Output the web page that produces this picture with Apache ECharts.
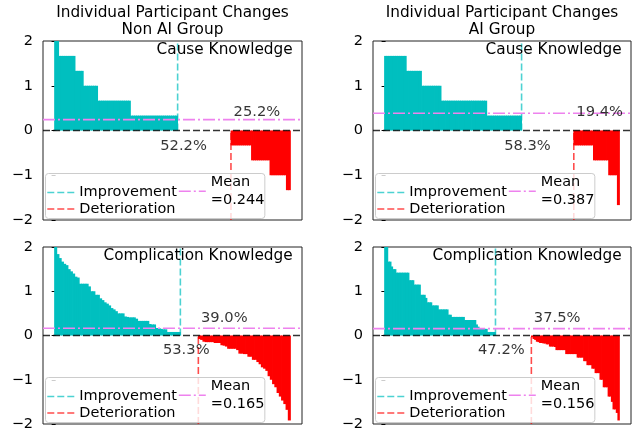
<!DOCTYPE html>
<html>
<head>
<meta charset="utf-8">
<script src="https://cdn.jsdelivr.net/npm/echarts@6/dist/echarts.min.js"></script>
<style>
  html, body { margin: 0; padding: 0; background: #fff; }
  #chart { width: 632px; height: 434px; }
</style>
</head>
<body>
<div id="chart"></div>
<script>
// per-participant change scores, sorted high -> low (0 = unchanged)
const nonAiCause = [
  2, 2, 1.667, 1.667, 1.667, 1.667, 1.667, 1.667, 1.667, 1.667,
  1.333, 1.333, 1.333, 1.333, 1, 1, 1, 1, 1, 1,
  1, 0.667, 0.667, 0.667, 0.667, 0.667, 0.667, 0.667, 0.667, 0.667,
  0.667, 0.667, 0.667, 0.667, 0.667, 0.667, 0.667, 0.333, 0.333, 0.333,
  0.333, 0.333, 0.333, 0.333, 0.333, 0.333, 0.333, 0.333, 0.333, 0.333,
  0.333, 0.333, 0.333, 0.333, 0.333, 0.333, 0.333, 0.333, 0.333, 0.333,
  0, 0, 0, 0, 0, 0, 0, 0, 0, 0,
  0, 0, 0, 0, 0, 0, 0, 0, 0, 0,
  0, 0, 0, 0, 0, 0, -0.333, -0.333, -0.333, -0.333,
  -0.333, -0.333, -0.333, -0.333, -0.333, -0.333, -0.667, -0.667, -0.667, -0.667,
  -0.667, -0.667, -0.667, -0.667, -0.667, -1, -1, -1, -1, -1,
  -1, -1, -1, -1.333, -1.333
];
const aiCause = [
  1.667, 1.667, 1.667, 1.667, 1.667, 1.667, 1.667, 1.667, 1.667, 1.667,
  1.333, 1.333, 1.333, 1.333, 1.333, 1.333, 1.333, 1, 1, 1,
  1, 1, 1, 1, 1, 1, 0.667, 0.667, 0.667, 0.667,
  0.667, 0.667, 0.667, 0.667, 0.667, 0.667, 0.667, 0.667, 0.667, 0.667,
  0.667, 0.667, 0.667, 0.667, 0.667, 0.667, 0.667, 0.333, 0.333, 0.333,
  0.333, 0.333, 0.333, 0.333, 0.333, 0.333, 0.333, 0.333, 0.333, 0.333,
  0.333, 0.333, 0.333, 0, 0, 0, 0, 0, 0, 0,
  0, 0, 0, 0, 0, 0, 0, 0, 0, 0,
  0, 0, 0, 0, 0, 0, 0, -0.333, -0.333, -0.333,
  -0.333, -0.333, -0.333, -0.333, -0.333, -0.333, -0.667, -0.667, -0.667, -0.667,
  -0.667, -0.667, -0.667, -1, -1, -1, -1, -1.667
];
const nonAiComp = [
  2, 1.84, 1.75, 1.67, 1.62, 1.59, 1.5, 1.45, 1.4, 1.33,
  1.31, 1.17, 1.17, 1.17, 1.17, 1.11, 1, 1, 0.92, 0.92,
  0.84, 0.8, 0.75, 0.72, 0.68, 0.62, 0.59, 0.55, 0.5, 0.5,
  0.5, 0.43, 0.42, 0.41, 0.41, 0.41, 0.38, 0.33, 0.33, 0.33,
  0.33, 0.33, 0.26, 0.25, 0.25, 0.17, 0.17, 0.15, 0.14, 0.14,
  0.08, 0.08, 0.08, 0.08, 0.08, 0.08,
  0, 0, 0, 0, 0, 0, 0, 0,
  -0.08, -0.1, -0.14, -0.15, -0.15, -0.15, -0.15, -0.17, -0.17, -0.17,
  -0.22, -0.23, -0.25, -0.3, -0.3, -0.3, -0.3, -0.33, -0.41, -0.41,
  -0.42, -0.42, -0.48, -0.48, -0.55, -0.55, -0.6, -0.65, -0.72, -0.75,
  -0.8, -0.92, -1, -1.1, -1.17, -1.3, -1.38, -1.47, -1.55, -1.68,
  -1.92
];
const aiComp = [
  2, 2, 1.67, 1.67, 1.56, 1.5, 1.5, 1.42, 1.42, 1.42,
  1.42, 1.42, 1.42, 1.42, 1.42, 1.25, 1.25, 1.25, 1.15, 1.15,
  1.15, 1.15, 0.92, 0.92, 0.92, 0.85, 0.75, 0.75, 0.75, 0.68,
  0.68, 0.68, 0.68, 0.59, 0.59, 0.59, 0.59, 0.59, 0.59, 0.47,
  0.47, 0.42, 0.42, 0.42, 0.42, 0.42, 0.42, 0.42, 0.42, 0.35,
  0.35, 0.35, 0.35, 0.35, 0.35, 0.35, 0.25, 0.2, 0.17, 0.15,
  0.15, 0.15, 0.15, 0.08, 0.08, 0.08, 0.08, 0.08,
  0, 0, 0, 0, 0, 0, 0, 0, 0, 0,
  0, 0, 0, 0, 0, 0, 0, 0, 0, 0, 0, 0,
  -0.04, -0.08, -0.1, -0.14, -0.15, -0.17, -0.17, -0.18, -0.18, -0.2,
  -0.2, -0.25, -0.25, -0.25, -0.26, -0.33, -0.33, -0.33, -0.33, -0.33,
  -0.33, -0.42, -0.42, -0.42, -0.42, -0.42, -0.42, -0.42, -0.5, -0.5,
  -0.5, -0.5, -0.58, -0.58, -0.67, -0.67, -0.67, -0.75, -0.75, -0.85,
  -0.85, -0.85, -1, -1, -1.17, -1.17, -1.17, -1.38, -1.38, -1.5,
  -1.67, -1.67, -1.75, -1.92
];

const panelValues = [nonAiCause, aiCause, nonAiComp, aiComp];
const panelNames = ['Cause Knowledge', 'Cause Knowledge', 'Complication Knowledge', 'Complication Knowledge'];
const groupTitles = ['Non AI Group', 'AI Group'];
const improvePct = ['52.2%', '58.3%', '53.3%', '47.2%'];
const deterPct = ['25.2%', '19.4%', '39.0%', '37.5%'];
const meanValues = [0.244, 0.387, 0.165, 0.156];

const CYAN = '#00bfbf';
const RED = '#ff0000';
const FONT = 'DejaVu Sans';

// pixel boxes of the four axes
const boxes = [
  { left: 43, top: 41, width: 259, height: 179 },
  { left: 373, top: 41, width: 258, height: 179 },
  { left: 43, top: 247, width: 259, height: 177 },
  { left: 373, top: 247, width: 258, height: 177 }
];

function lineSeries(name, p, data, color, dash, width) {
  return {
    type: 'line', name, data, xAxisIndex: p, yAxisIndex: p,
    symbol: 'none', color, silent: true, z: 3,
    lineStyle: { color, width, type: dash }
  };
}

const grids = [], xAxes = [], yAxes = [], series = [], legends = [], graphics = [];

panelValues.forEach((values, p) => {
  const b = boxes[p];
  const n = values.length;
  const nImp = values.filter(v => v > 0).length;
  const nZero = values.filter(v => v === 0).length;
  const impX = nImp - 0.5;
  const detX = nImp + nZero - 0.5;
  const pad = 0.05 * (n - 0.2);
  const xMin = -0.4 - pad;
  const xMax = n - 0.6 + pad;
  const unitPx = b.width / (xMax - xMin);

  grids.push({ ...b, show: true, borderColor: '#222', borderWidth: 1 });
  xAxes.push({ type: 'value', gridIndex: p, min: xMin, max: xMax, show: false });
  yAxes.push({
    type: 'value', gridIndex: p, min: -2, max: 2, interval: 1,
    splitLine: { show: false },
    axisLine: { show: false },
    axisTick: { show: true, length: 4, lineStyle: { color: '#000' } },
    axisLabel: {
      color: '#000', fontSize: 14.5, fontFamily: FONT, margin: 10,
      formatter: v => (v < 0 ? '\u2212' + (-v) : String(v))
    }
  });

  // bars overlap slightly so neighbouring bars do not leave anti-aliased seams
  series.push({
    type: 'bar', xAxisIndex: p, yAxisIndex: p, silent: true,
    data: values.map((v, i) => [i, v]),
    barWidth: unitPx + 0.8,
    itemStyle: { color: d => (d.value[1] >= 0 ? CYAN : RED) }
  });
  series.push(lineSeries('Improvement', p, [[impX, 0], [impX, 2]], 'rgba(0,191,191,0.7)', [7, 3], 1.6));
  series.push(lineSeries('Deterioration', p, [[detX, -2], [detX, 0]], 'rgba(255,0,0,0.7)', [7, 3], 1.6));
  series.push(lineSeries('Mean', p, [[xMin, meanValues[p]], [xMax, meanValues[p]]], '#ee82ee', [12, 3, 2, 3], 1.6));
  series.push(lineSeries('zero', p, [[xMin, 0], [xMax, 0]], 'rgba(0,0,0,0.8)', [7, 3], 1.6));

  series.push({
    type: 'scatter', xAxisIndex: p, yAxisIndex: p, symbolSize: 0, silent: true, z: 4,
    data: [
      { value: [impX + 0.025 * n, -0.34], name: improvePct[p] },
      { value: [detX + 0.11 * n, 0.4], name: deterPct[p] }
    ],
    label: { show: true, position: 'inside', formatter: '{b}', color: '#000', fontSize: 14.7, fontFamily: FONT }
  });

  const legendTop = b.top + b.height - 46.5;
  legends.push({
    left: b.left + 2.5, top: legendTop, orient: 'vertical',
    data: ['Improvement', 'Deterioration'],
    itemWidth: 27, itemHeight: 14, itemGap: 0.5,
    padding: [11, 88, 1.5, 1],
    backgroundColor: 'rgba(255,255,255,0.8)', borderColor: '#cccccc', borderWidth: 1, borderRadius: 3,
    selectedMode: false, itemStyle: { opacity: 0 }, lineStyle: { width: 1.6 },
    textStyle: { color: '#000', fontSize: 14.5, lineHeight: 16, fontFamily: FONT }
  });
  legends.push({
    left: b.left + 135, top: legendTop + 0.5, orient: 'vertical',
    data: ['Mean'], itemWidth: 27, itemHeight: 14, padding: 0,
    selectedMode: false, itemStyle: { opacity: 0 }, lineStyle: { width: 1.6 },
    formatter: () => 'Mean\n=' + meanValues[p].toFixed(3),
    textStyle: { color: '#000', fontSize: 14.5, lineHeight: 17.3, fontFamily: FONT }
  });

  graphics.push({
    type: 'text', x: b.left + b.width - 9.3, y: b.top + 9.5, z: 10,
    style: { text: panelNames[p], fill: '#000', fontSize: 15.3, fontFamily: FONT, align: 'right', verticalAlign: 'middle' }
  });
  if (p < 2) {
    graphics.push({
      type: 'text', x: b.left + b.width / 2, y: 4, z: 10,
      style: {
        text: 'Individual Participant Changes\n' + groupTitles[p], fill: '#000',
        fontSize: 15.3, lineHeight: 17.3, fontFamily: FONT, align: 'center', verticalAlign: 'top'
      }
    });
  }
});

const chart = echarts.init(document.getElementById('chart'));
chart.setOption({
  animation: false,
  backgroundColor: '#fff',
  grid: grids,
  xAxis: xAxes,
  yAxis: yAxes,
  legend: legends,
  graphic: graphics,
  series
});
</script>
</body>
</html>
